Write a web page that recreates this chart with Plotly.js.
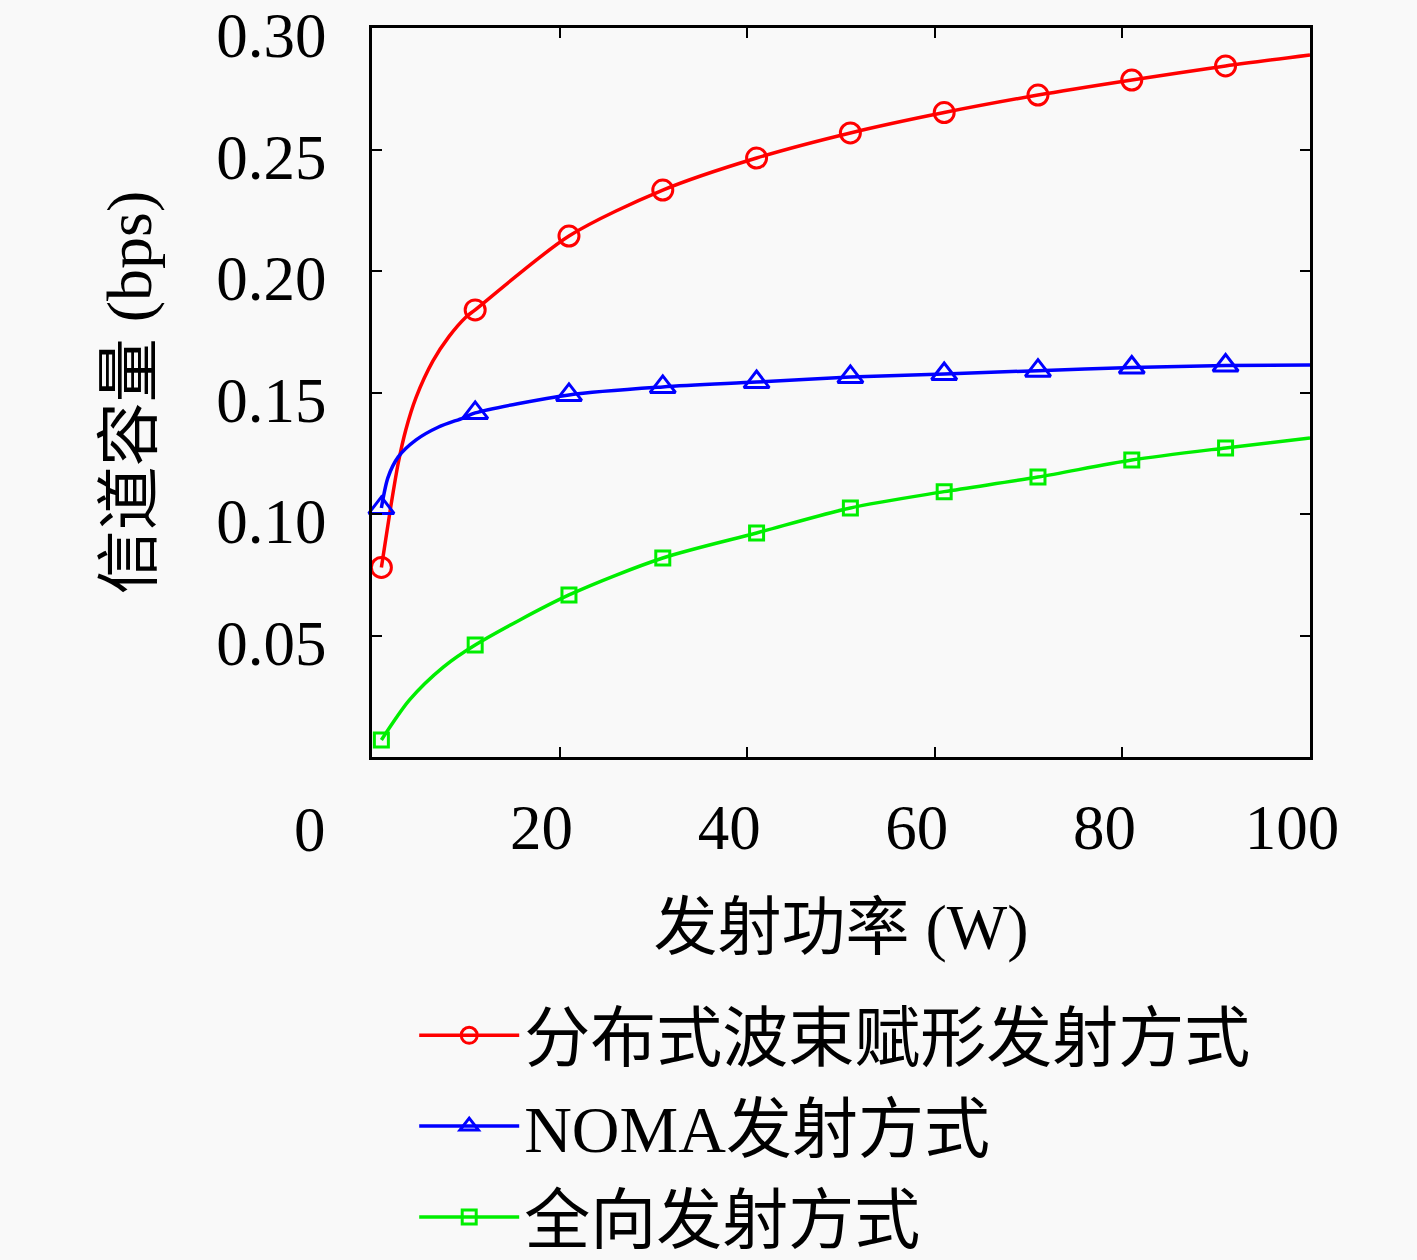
<!DOCTYPE html>
<html>
<head>
<meta charset="utf-8">
<script src="https://cdn.plot.ly/plotly-3.0.1.min.js"></script>
<style>
  html, body { margin: 0; padding: 0; background: #f9f9f9; }
  #chart { width: 1417px; height: 1260px; }
</style>
</head>
<body>
<div id="chart"></div>
<script>
// 发射功率 (W) — markers every 10 W, extra points
const markerPower = [1, 11, 21, 31, 41, 51, 61, 71, 81, 91];

const beamPower = [1, 2, 2.8, 3.6, 4.7, 6.5, 8.2, 10, 11, 21, 31, 41, 51, 61, 71, 81, 91, 100];
const beamCap   = [0.078, 0.103, 0.121, 0.1346, 0.148, 0.163, 0.173, 0.181, 0.184, 0.2144, 0.2333, 0.2465, 0.2568, 0.2652, 0.2724, 0.2786, 0.2844, 0.2889];

const nomaPower = [1, 1.7, 2.8, 4.7, 7.1, 9.7, 11, 21, 31, 41, 51, 61, 71, 81, 91, 100];
const nomaCap   = [0.1025, 0.115, 0.1235, 0.1305, 0.1358, 0.1395, 0.1416, 0.149, 0.1523, 0.1543, 0.1564, 0.1576, 0.1590, 0.1603, 0.1611, 0.1613];

const omniPower = [1, 4, 7.6, 11, 21, 31, 41, 51, 61, 71, 81, 91, 100];
const omniCap   = [0.007, 0.0235, 0.037, 0.0461, 0.0667, 0.0819, 0.0922, 0.1025, 0.1092, 0.1152, 0.1222, 0.1272, 0.1313];

const seriesNames = ['分布式波束赋形发射方式', 'NOMA发射方式', '全向发射方式'];
const xTickVals = [0, 20, 40, 60, 80, 100];
const xTickText = ['', '20', '40', '60', '80', '100'];
const yTickVals = [0.05, 0.10, 0.15, 0.20, 0.25, 0.30];
const yTickText = ['0.05', '0.10', '0.15', '0.20', '0.25', '0.30'];

const NUM_FONT = 'Liberation Serif, DejaVu Serif, serif';
const CJK_FONT = 'Liberation Serif, Noto Sans CJK SC, serif';

function pick(xs, ys, keep) {
  const out = [];
  xs.forEach((x, i) => { if (keep.includes(x)) out.push(ys[i]); });
  return out;
}

const styles = [
  { color: '#ff0000', symbol: 'circle-open', size: 20 },
  { color: '#0000ff', symbol: 'triangle-up-open', size: 22 },
  { color: '#00ee00', symbol: 'square-open', size: 14 }
];
const xs = [beamPower, nomaPower, omniPower];
const ys = [beamCap, nomaCap, omniCap];

const traces = [];
xs.forEach((x, i) => {
  const st = styles[i];
  // smooth curve
  traces.push({
    x: x, y: ys[i], mode: 'lines', type: 'scatter',
    line: { color: st.color, width: 3.5, shape: 'spline', smoothing: 0.8 },
    showlegend: false, hoverinfo: 'skip'
  });
  // markers every 10 W
  traces.push({
    x: markerPower, y: pick(x, ys[i], markerPower), mode: 'markers', type: 'scatter',
    marker: { symbol: st.symbol, size: st.size, color: st.color, line: { color: st.color, width: 3 } },
    showlegend: false, cliponaxis: false
  });
});
// legend entries
seriesNames.forEach((name, i) => {
  const st = styles[i];
  traces.push({
    x: [null], y: [null], mode: 'lines+markers', type: 'scatter', name: name,
    legendgroup: 'g' + i,
    line: { color: st.color, width: 3.5 },
    marker: { symbol: st.symbol, size: st.size, color: st.color, line: { color: st.color, width: 3 } }
  });
});

const axisCommon = {
  showline: true, linecolor: '#000', linewidth: 3, mirror: 'ticks',
  ticks: 'inside', ticklen: 10, tickwidth: 2, tickcolor: '#000',
  showgrid: false, zeroline: false, automargin: false,
  ticklabeloverflow: 'allow',
  tickfont: { family: NUM_FONT, size: 63, color: '#000' }
};

const layout = {
  width: 1417, height: 1260,
  margin: { l: 372, r: 107, t: 28, b: 503, autoexpand: false },
  paper_bgcolor: '#f9f9f9', plot_bgcolor: '#f9f9f9',
  xaxis: Object.assign({}, axisCommon, {
    range: [0, 100], tickmode: 'array', tickvals: xTickVals, ticktext: xTickText,
    ticklabelstandoff: 13, ticklabelshift: -18,
    title: { text: '发射功率 (W)', font: { family: CJK_FONT, size: 64, color: '#000' }, standoff: 43 }
  }),
  yaxis: Object.assign({}, axisCommon, {
    range: [0, 0.30], tickmode: 'array', tickvals: yTickVals, ticktext: yTickText,
    ticklabelstandoff: 30, ticklabelshift: 7,
    title: { text: '信道容量 (bps)', font: { family: CJK_FONT, size: 64, color: '#000' }, standoff: 44 }
  }),
  legend: {
    x: 0.045, y: -0.314, xanchor: 'left', yanchor: 'top',
    bgcolor: 'rgba(0,0,0,0)', borderwidth: 0,
    font: { family: CJK_FONT, size: 66, color: '#000' },
    itemwidth: 100, tracegroupgap: 2
  },
  annotations: [{
    text: '0', xref: 'paper', yref: 'paper', x: -0.066, y: -0.100,
    xanchor: 'center', yanchor: 'middle', showarrow: false,
    font: { family: NUM_FONT, size: 63, color: '#000' }
  }]
};

Plotly.newPlot('chart', traces, layout, { displayModeBar: false, staticPlot: true });
</script>
</body>
</html>
